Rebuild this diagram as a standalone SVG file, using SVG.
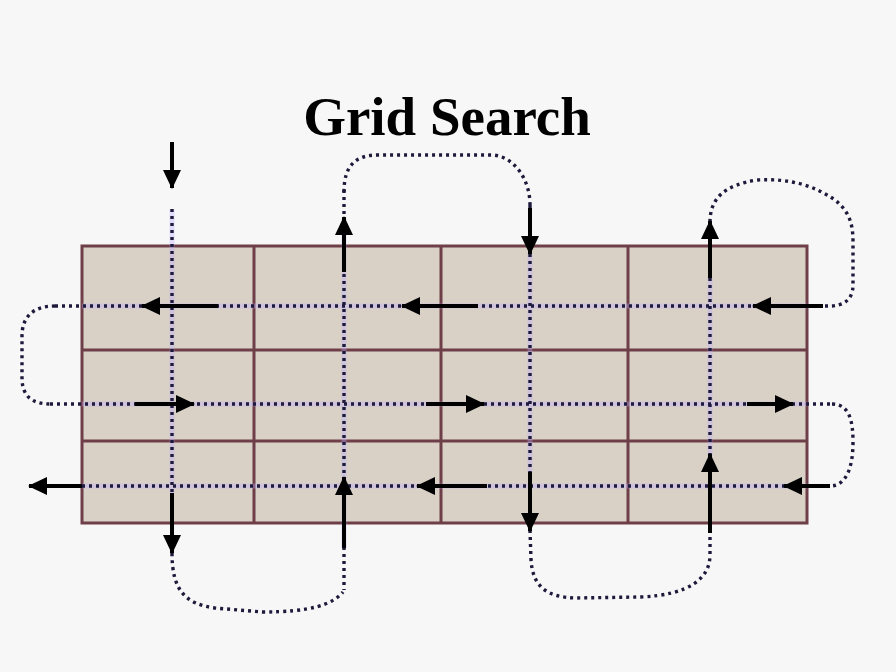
<svg xmlns="http://www.w3.org/2000/svg" width="896" height="672" viewBox="0 0 896 672">
<defs>
<style>
.cell{fill:#d9d1c6;stroke:#6e3f48;stroke-width:3}
.dot{fill:none;stroke:#1d1a3c;stroke-width:3.4;stroke-dasharray:3 4}
.halo{fill:none;stroke:#b9a8ff;stroke-width:5;stroke-opacity:0.35}
.arr{stroke:#000;stroke-width:4;fill:none;marker-end:url(#ah)}
</style>
<marker id="ah" markerUnits="userSpaceOnUse" markerWidth="20" markerHeight="20" viewBox="0 0 20 20" refX="18" refY="10" orient="auto">
<path d="M0,1 L19,10 L0,19 Z" fill="#000"/>
</marker>
</defs>
<rect width="896" height="672" fill="#f7f7f7"/>
<g id="title"><text x="447" y="135" text-anchor="middle" font-family="'Liberation Serif', 'Times New Roman', serif" font-weight="bold" font-size="55" fill="#000">Grid Search</text></g>
<g id="grid">
<rect class="cell" x="82" y="246" width="725" height="277"/>
<path d="M254,246 V523 M441,246 V523 M628,246 V523 M82,350 H807 M82,441 H807" stroke="#6e3f48" stroke-width="3" fill="none"/>
</g>
<g id="connectors">
<path class="halo" d="M172,209 V493 M344,218 V548 M530,253 V472 M710,278 V455 M82,306 H807 M82,404 H807 M82,486 H807"/>
<path class="dot" d="M172,209 V493 M344,190 V590 M530,205 V530 M710,222 V555 M55,306 H830 M50,404 H832 M82,486 H830"/>
<path class="dot" d="M55,306 C32,306 22,318 22,336 L22,378 C22,396 32,404 50,404"/>
<path class="dot" d="M344,192 C344,166 355,155 378,155 L493,155 C515,157 530,180 530,205"/>
<path class="dot" d="M710,222 C710,198 725,185 757,180 C790,178 815,186 835,200 C850,212 853,225 853,242 L853,285 C853,300 843,306 830,306"/>
<path class="dot" d="M832,404 C849,404 853,420 853,442 C853,470 845,486 830,486"/>
<path class="dot" d="M172,553 C172,590 185,604 215,608 L262,612 C310,612 332,605 343,592"/>
<path class="dot" d="M530,530 L531,560 C533,588 548,597 575,598 L640,597 C690,595 710,578 710,555"/>
<line class="arr" x1="172" y1="142" x2="172" y2="188"/>
<line class="arr" x1="172" y1="493" x2="172" y2="553"/>
<line class="arr" x1="344" y1="548" x2="344" y2="477"/>
<line class="arr" x1="344" y1="272" x2="344" y2="217"/>
<line class="arr" x1="530" y1="208" x2="530" y2="254"/>
<line class="arr" x1="530" y1="472" x2="530" y2="531"/>
<line class="arr" x1="710" y1="533" x2="710" y2="454"/>
<line class="arr" x1="710" y1="278" x2="710" y2="221"/>
<line class="arr" x1="218" y1="306" x2="142" y2="306"/>
<line class="arr" x1="478" y1="306" x2="402" y2="306"/>
<line class="arr" x1="823" y1="306" x2="753" y2="306"/>
<line class="arr" x1="135" y1="404" x2="194" y2="404"/>
<line class="arr" x1="426" y1="404" x2="484" y2="404"/>
<line class="arr" x1="747" y1="404" x2="793" y2="404"/>
<line class="arr" x1="82" y1="486" x2="29" y2="486"/>
<line class="arr" x1="487" y1="486" x2="417" y2="486"/>
<line class="arr" x1="830" y1="486" x2="784" y2="486"/>
</g>
</svg>
